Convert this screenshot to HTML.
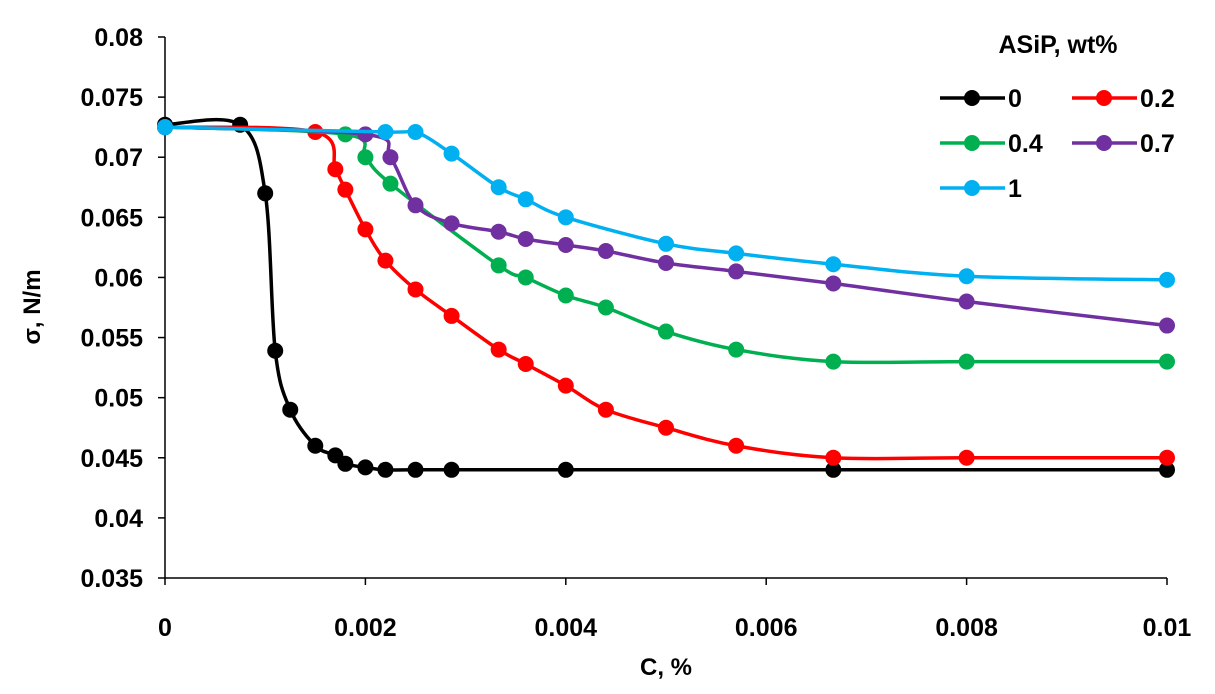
<!DOCTYPE html>
<html><head><meta charset="utf-8"><style>
html,body{margin:0;padding:0;background:#fff;}
svg text{font-family:"Liberation Sans",Arial,sans-serif;font-weight:bold;fill:#000;}
</style></head><body>
<svg id="chart" width="1215" height="689" viewBox="0 0 1215 689" xmlns="http://www.w3.org/2000/svg">
<g id="axes"></g><g id="series"></g><g id="legend"></g>
</svg>
<script>
const xTicks=[0,0.002,0.004,0.006,0.008,0.01];
const xTickLabels=["0","0.002","0.004","0.006","0.008","0.01"];
const yTicks=[0.035,0.04,0.045,0.05,0.055,0.06,0.065,0.07,0.075,0.08];
const yTickLabels=["0.035","0.04","0.045","0.05","0.055","0.06","0.065","0.07","0.075","0.08"];
const seriesNames=["0","0.2","0.4","0.7","1"];
const seriesColors=["#000000","#ff0000","#00b050","#7030a0","#00b0f0"];
const x0=[0,0.00075,0.001,0.0011,0.00125,0.0015,0.0017,0.0018,0.002,0.0022,0.0025,0.00286,0.004,0.00667,0.01];
const y0=[0.0727,0.0727,0.067,0.0539,0.049,0.046,0.0452,0.0445,0.0442,0.044,0.044,0.044,0.044,0.044,0.044];
const x1=[0,0.0015,0.0017,0.0018,0.002,0.0022,0.0025,0.00286,0.00333,0.0036,0.004,0.0044,0.005,0.0057,0.00667,0.008,0.01];
const y1=[0.0725,0.0721,0.069,0.0673,0.064,0.0614,0.059,0.0568,0.054,0.0528,0.051,0.049,0.0475,0.046,0.045,0.045,0.045];
const x2=[0,0.0018,0.002,0.00225,0.00333,0.0036,0.004,0.0044,0.005,0.0057,0.00667,0.008,0.01];
const y2=[0.0725,0.0719,0.07,0.0678,0.061,0.06,0.0585,0.0575,0.0555,0.054,0.053,0.053,0.053];
const x3=[0,0.002,0.00225,0.0025,0.00286,0.00333,0.0036,0.004,0.0044,0.005,0.0057,0.00667,0.008,0.01];
const y3=[0.0725,0.0719,0.07,0.066,0.0645,0.0638,0.0632,0.0627,0.0622,0.0612,0.0605,0.0595,0.058,0.056];
const x4=[0,0.0022,0.0025,0.00286,0.00333,0.0036,0.004,0.005,0.0057,0.00667,0.008,0.01];
const y4=[0.0725,0.0721,0.0721,0.0703,0.0675,0.0665,0.065,0.0628,0.062,0.0611,0.0601,0.0598];
const allX=[x0,x1,x2,x3,x4], allY=[y0,y1,y2,y3,y4];

const NS="http://www.w3.org/2000/svg";
const PX0=165,PX1=1167,PY0=578,PY1=37;
const sx=v=>PX0+(v-0)/(0.01-0)*(PX1-PX0);
const sy=v=>PY0-(v-0.035)/(0.08-0.035)*(PY0-PY1);
function mk(tag,attrs,parent){const e=document.createElementNS(NS,tag);for(const k in attrs)e.setAttribute(k,attrs[k]);parent.appendChild(e);return e;}
const axes=document.getElementById('axes'),ser=document.getElementById('series'),leg=document.getElementById('legend');

let yl=mk('line',{x1:PX0,y1:PY1,x2:PX0,y2:PY0,stroke:'#000','stroke-width':1.5},axes);


let xl=mk('line',{x1:PX0,y1:PY0,x2:PX1,y2:PY0,stroke:'#000','stroke-width':1.5},axes);


yTicks.forEach((v,i)=>{
  mk('line',{x1:PX0-7,y1:sy(v),x2:PX0,y2:sy(v),stroke:'#000','stroke-width':1.5},axes);
  const t=mk('text',{x:PX0-22,y:sy(v)+9,'text-anchor':'end','font-size':25},axes);
  t.textContent=yTickLabels[i];
  
  
});
xTicks.forEach((v,i)=>{
  mk('line',{x1:sx(v),y1:PY0,x2:sx(v),y2:PY0+7,stroke:'#000','stroke-width':1.5},axes);
  const t=mk('text',{x:sx(v),y:636,'text-anchor':'middle','font-size':25},axes);
  t.textContent=xTickLabels[i];
  
  
});
let xt=mk('text',{x:666,y:675,'text-anchor':'middle','font-size':24},axes);xt.textContent='C, %';


let yt=mk('text',{x:40,y:307,'text-anchor':'middle','font-size':24,transform:'rotate(-90 40 307)'},axes);yt.textContent='σ, N/m';



function smooth(pts){
  let d=`M${pts[0][0]},${pts[0][1]}`;
  for(let i=0;i<pts.length-1;i++){
    const p0=pts[i-1]||pts[i],p1=pts[i],p2=pts[i+1],p3=pts[i+2]||p2;
    const c1=[p1[0]+(p2[0]-p0[0])/6,p1[1]+(p2[1]-p0[1])/6];
    const c2=[p2[0]-(p3[0]-p1[0])/6,p2[1]-(p3[1]-p1[1])/6];
    d+=` C${c1[0]},${c1[1]} ${c2[0]},${c2[1]} ${p2[0]},${p2[1]}`;
  }
  return d;
}
allX.forEach((xs,s)=>{
  const g=mk('g',{},ser);
  
  
  const pts=xs.map((x,i)=>[sx(x),sy(allY[s][i])]);
  const p=mk('path',{d:smooth(pts),fill:'none',stroke:seriesColors[s],'stroke-width':3.5},g);
  
  
  pts.forEach(pt=>{
    const c=mk('circle',{cx:pt[0],cy:pt[1],r:8,fill:seriesColors[s]},g);
    
    
  });
});
let lt=mk('text',{x:1058,y:53,'text-anchor':'middle','font-size':25},leg);lt.textContent='ASiP, wt%';


const lpos=[[940,98],[1072,98],[940,143],[1072,143],[940,188]];
seriesNames.forEach((n,s)=>{
  const [lx,ly]=lpos[s];
  const g=mk('g',{},leg);
  
  
  mk('line',{x1:lx,y1:ly,x2:lx+65,y2:ly,stroke:seriesColors[s],'stroke-width':3.5},g);
  mk('circle',{cx:lx+32,cy:ly,r:8,fill:seriesColors[s]},g);
  const t=mk('text',{x:lx+68,y:ly+9,'font-size':25},g);t.textContent=n;
});
</script>
</body></html>
